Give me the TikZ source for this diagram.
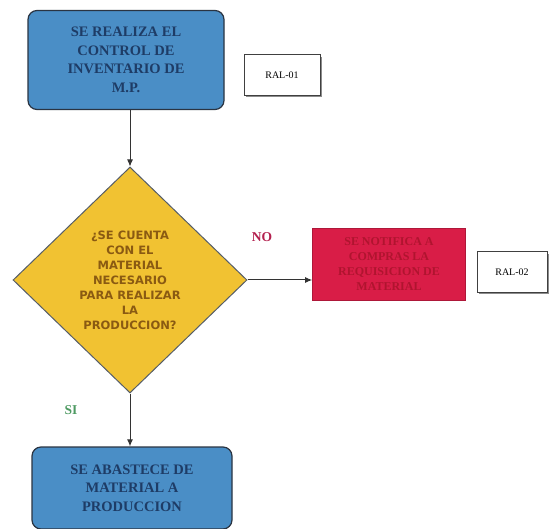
\documentclass[tikz,border=0pt]{standalone}
\usepackage{fontspec}
\setmainfont{Liberation Serif}
\newfontfamily\diamfont{DejaVu Sans}
\usetikzlibrary{shapes.geometric,arrows.meta}
\definecolor{boxblue}{HTML}{4A8EC6}
\definecolor{boxtext}{HTML}{1E3C66}
\definecolor{boxedge}{HTML}{2A3442}
\definecolor{diamfill}{HTML}{F1C232}
\definecolor{diamtext}{HTML}{8A5A12}
\definecolor{redfill}{HTML}{D91D47}
\definecolor{redtext}{HTML}{B0142F}
\definecolor{nocol}{HTML}{B3204E}
\definecolor{sicol}{HTML}{4E9A62}
\tikzset{
  procbox/.style={draw=boxedge, line width=1.2pt, fill=boxblue, rounded corners=9pt,
    text=boxtext, font=\bfseries\fontsize{14.5}{18.5}\selectfont, align=center},
  redbox/.style={draw=redfill!80!black, line width=0.6pt, fill=redfill, text=redtext,
    font=\bfseries\fontsize{12}{15}\selectfont, align=center},
  decision/.style={diamond, draw=boxedge!80, line width=1pt, fill=diamfill, aspect=1.035,
    inner sep=0pt, minimum width=234pt, minimum height=226pt, text=diamtext,
    font=\diamfont\bfseries\fontsize{11.5}{15}\selectfont, align=center},
  refbox/.style={draw=black!75, line width=0.6pt, fill=white, font=\fontsize{10}{10}\selectfont},
  refshadow/.style={fill=black!45},
  flow/.style={draw=black!80, line width=1pt, -{Latex[length=7pt,width=6pt]}},
}
\begin{document}
\begin{tikzpicture}[x=1pt,y=-1pt]
\useasboundingbox (0,0) rectangle (549,529);
\node[procbox, minimum width=196pt, minimum height=99pt] (a) at (126,60)
  {SE REALIZA EL\\CONTROL DE\\INVENTARIO DE\\M.P.};
\fill[refshadow] (246,57) rectangle (322,97);
\node[refbox, minimum width=76pt, minimum height=41pt] (r1) at (282,75) {RAL-01};
\node[decision] (d) at (130,280)
  {¿SE CUENTA\\CON EL\\MATERIAL\\NECESARIO\\PARA REALIZAR\\LA\\PRODUCCION?};
\node[redbox, minimum width=153pt, minimum height=72pt] (n) at (389,264)
  {SE NOTIFICA A\\COMPRAS LA\\REQUISICION DE\\MATERIAL};
\fill[refshadow] (479,254) rectangle (549,294);
\node[refbox, minimum width=70pt, minimum height=41pt] (r2) at (512,272) {RAL-02};
\node[procbox, minimum width=200pt, minimum height=82pt] (b) at (132,488)
  {SE ABASTECE DE\\MATERIAL A\\PRODUCCION};
\node[text=nocol, font=\bfseries\fontsize{13.5}{13.5}\selectfont] (no) at (262,237) {NO};
\node[text=sicol, font=\bfseries\fontsize{13.5}{13.5}\selectfont] (si) at (71,410) {SI};
\draw[flow] (a.south -| d.north) -- (d.north);
\draw[flow] (d.east) -- (d.east -| n.west);
\draw[flow] (d.south) -- (d.south |- b.north);
\end{tikzpicture}
\end{document}
